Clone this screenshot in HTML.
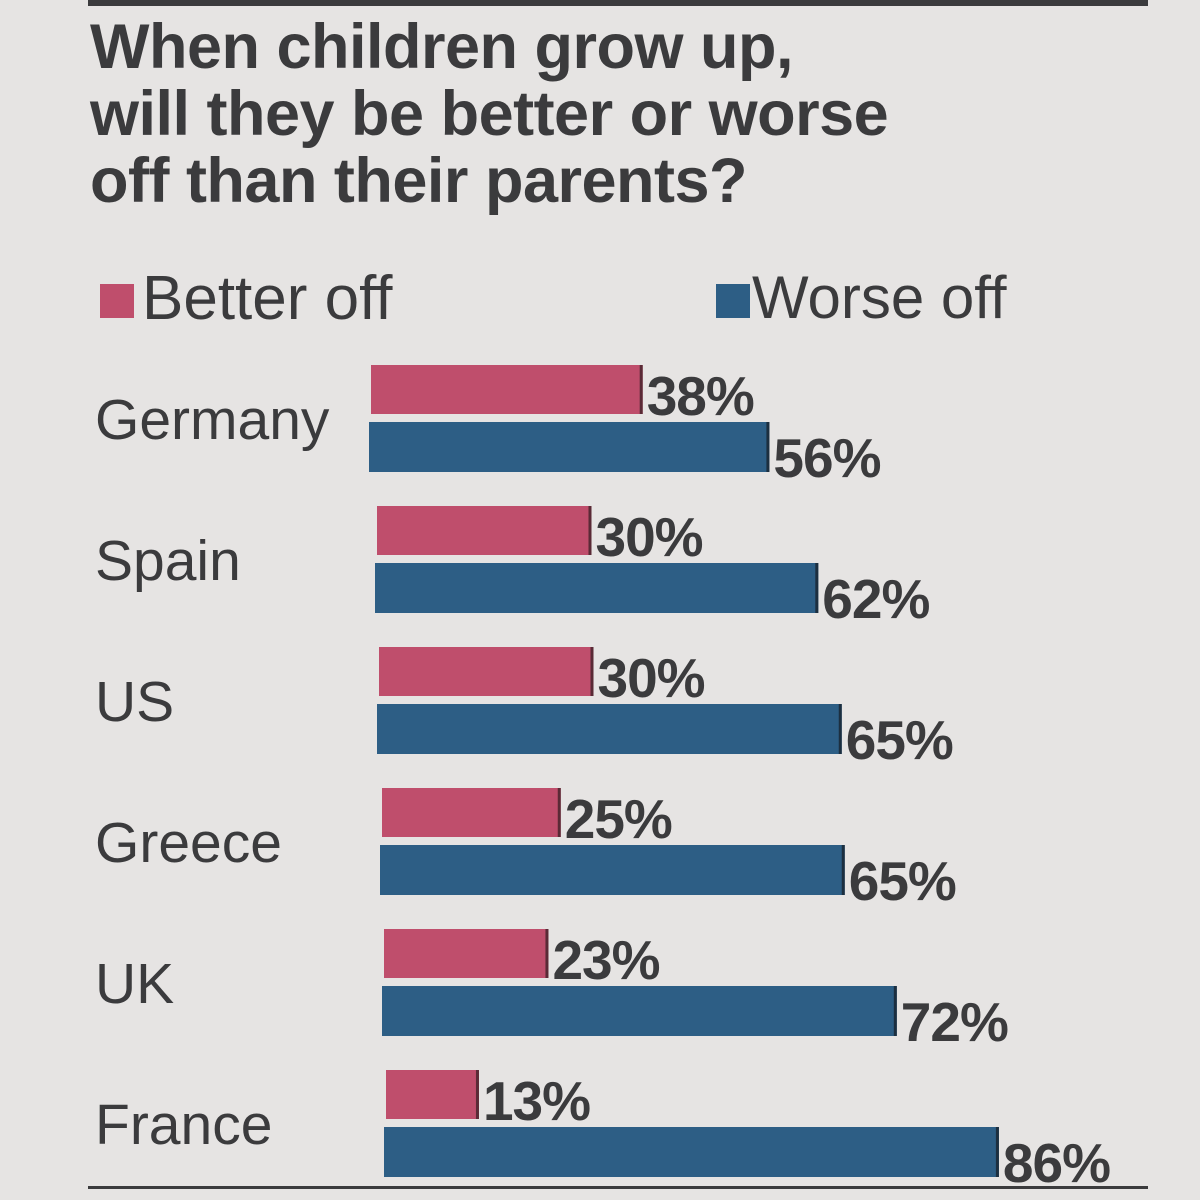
<!DOCTYPE html>
<html><head><meta charset="utf-8"><style>
html,body{margin:0;padding:0}
body{width:1200px;height:1200px;overflow:hidden;background:#e6e4e3;font-family:"Liberation Sans",sans-serif;color:#3b3b3d;position:relative}
.t{position:absolute;white-space:nowrap}
</style></head><body>
<div style="position:absolute;left:88px;top:0;width:1060px;height:6px;background:#3b3b3d"></div>
<div class="t" style="left:90px;top:14px;font-size:63px;font-weight:bold;line-height:67px;letter-spacing:-0.5px">When children grow up,<br>will they be better or worse<br>off than their parents?</div>
<div style="position:absolute;left:100px;top:284px;width:34px;height:34px;background:#bf4e6c"></div>
<div class="t" style="left:142px;top:263px;font-size:62px">Better off</div>
<div style="position:absolute;left:716px;top:284px;width:34px;height:34px;background:#2d5e85"></div>
<div class="t" style="left:752px;top:263px;font-size:60px">Worse off</div>
<svg id="chart" width="1200" height="1200" style="position:absolute;left:0;top:0"></svg>
<div style="position:absolute;left:88px;top:1186px;width:1060px;height:3px;background:#3b3b3d"></div>
<script>
const countries=["Germany","Spain","US","Greece","UK","France"];
const better=[38,30,30,25,23,13];
const worse=[56,62,65,65,72,86];
const svg=document.getElementById('chart');
const NS='http://www.w3.org/2000/svg';
const x0=[371,377,379,382,384,386];
const sx=v=>v*7.15;
const rowY=i=>365+i*141;
function mk(tag,attrs){const e=document.createElementNS(NS,tag);for(const k in attrs)e.setAttribute(k,attrs[k]);svg.appendChild(e);return e;}
countries.forEach((c,i)=>{
  const y=rowY(i);
  const lab=mk('text',{x:95,y:y+74,'font-size':57,fill:'#3b3b3d','font-family':'Liberation Sans, sans-serif'});
  lab.textContent=c;
  
  
  const wb=sx(better[i]);
  const rb=mk('rect',{x:x0[i],y:y,width:wb,height:49,fill:'#bf4e6c'});
  
  
  const lb=mk('rect',{x:x0[i]+wb-3,y:y,width:3,height:49,fill:'#5a2a36'});
  
  
  const tb=mk('text',{x:x0[i]+wb+4,y:y+50,'font-size':55,'font-weight':'bold',fill:'#3b3b3d','font-family':'Liberation Sans, sans-serif','letter-spacing':'-1'});
  tb.textContent=better[i]+'%';
  
  
  const ww=sx(worse[i]);
  const rw=mk('rect',{x:x0[i]-2,y:y+57,width:ww,height:50,fill:'#2d5e85'});
  
  
  const lw=mk('rect',{x:x0[i]-2+ww-3,y:y+57,width:3,height:50,fill:'#1c2f40'});
  
  
  const tw=mk('text',{x:x0[i]-2+ww+4,y:y+112,'font-size':55,'font-weight':'bold',fill:'#3b3b3d','font-family':'Liberation Sans, sans-serif','letter-spacing':'-1'});
  tw.textContent=worse[i]+'%';
  
  
});
</script>
</body></html>
